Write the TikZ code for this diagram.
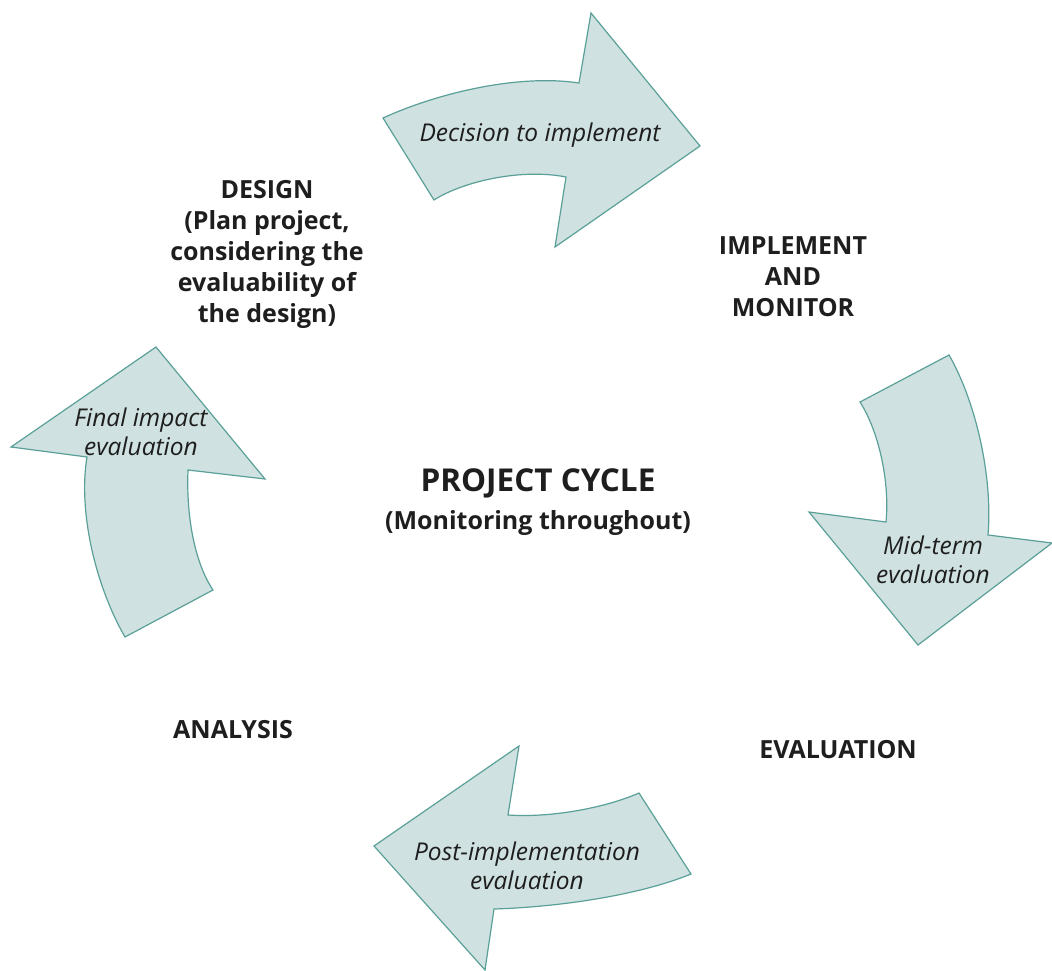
\documentclass[tikz,border=0pt]{standalone}
\usepackage{fontspec}
\setmainfont{Open Sans}
\definecolor{arrfill}{RGB}{207,225,224}
\definecolor{arrline}{RGB}{90,160,152}
\definecolor{txt}{RGB}{30,30,30}
\begin{document}
\begin{tikzpicture}[x=1pt,y=-1pt,
  cyc/.style={fill=arrfill,draw=arrline,line width=1.2pt,line join=miter},
  stage/.style={font=\bfseries\fontsize{25}{31}\selectfont,text=txt,align=center,inner sep=0pt},
  lab/.style={font=\itshape\fontsize{24.5}{29}\selectfont,text=txt,align=center,inner sep=0pt}]
\useasboundingbox (0,0) rectangle (1052,971);
% top arrow
\path[cyc] (383,118) .. controls (440,92) and (520,74) .. (579,83) -- (591,13) -- (700,146) -- (555,247) -- (566,177)
  .. controls (520,168) and (462,182) .. (434,200) -- cycle;
% right arrow
\path[cyc] (860,402) -- (949,355) .. controls (975,400) and (993,475) .. (988,535) -- (1052,543) -- (918,645) -- (809,512) -- (886,522)
  .. controls (890,480) and (878,430) .. (860,402) -- cycle;
% bottom arrow
\path[cyc] (374,846) -- (519,746) -- (508,815) .. controls (550,818) and (605,808) .. (639,793) -- (691,874)
  .. controls (640,895) and (560,907) .. (494,909) -- (485,970) -- cycle;
% left arrow
\path[cyc] (156,347) -- (265,479) -- (188,470) .. controls (186,520) and (196,565) .. (213,590) -- (125,637)
  .. controls (95,585) and (78,510) .. (87,457) -- (11,447) -- cycle;
% arrow labels
\node[lab] (dec) at (540,135) {Decision to implement};
\node[lab] (mid) at (933,560) {Mid-term\\evaluation};
\node[lab] (post) at (527,866) {Post-implementation\\evaluation};
\node[lab] (fin) at (141,432) {Final impact\\evaluation};
% stage labels
\node[stage] (design) at (267,254) {DESIGN\\(Plan project,\\considering the\\evaluability of\\the design)};
\node[stage] (impl) at (793,277) {IMPLEMENT\\AND\\MONITOR};
\node[stage] (eval) at (838,750) {EVALUATION};
\node[stage] (anal) at (233,730) {ANALYSIS};
\node[stage,font=\bfseries\fontsize{31.5}{36}\selectfont] (pc) at (538,483) {PROJECT CYCLE};
\node[stage] (mon) at (538,523) {(Monitoring throughout)};
\end{tikzpicture}
\end{document}
